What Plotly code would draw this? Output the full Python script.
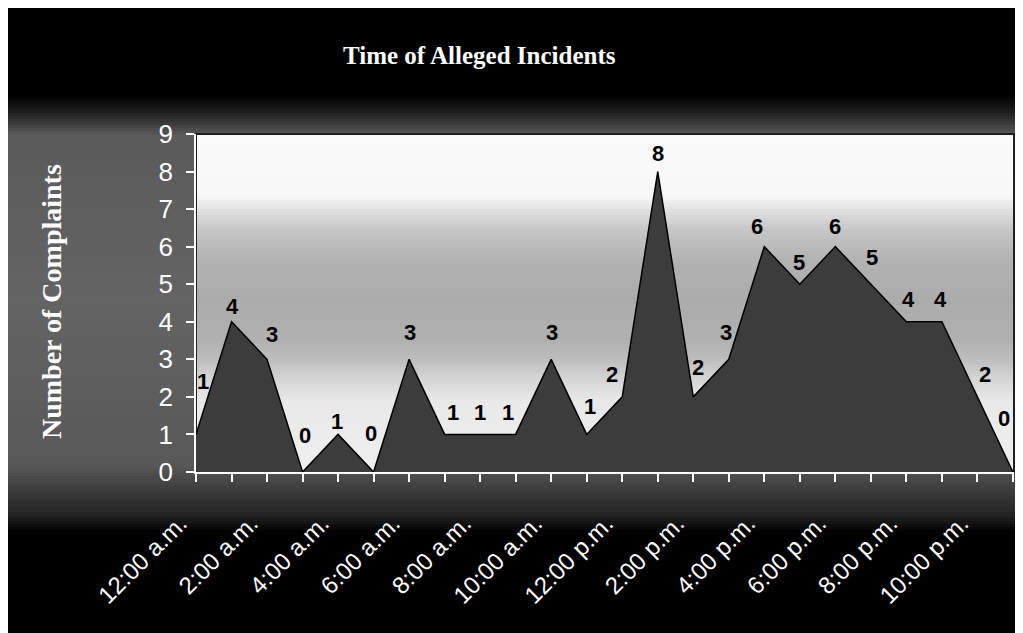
import plotly.graph_objects as go

# ---------------- data ----------------
hours = ["12:00 a.m.", "1:00 a.m.", "2:00 a.m.", "3:00 a.m.", "4:00 a.m.", "5:00 a.m.",
         "6:00 a.m.", "7:00 a.m.", "8:00 a.m.", "9:00 a.m.", "10:00 a.m.", "11:00 a.m.",
         "12:00 p.m.", "1:00 p.m.", "2:00 p.m.", "3:00 p.m.", "4:00 p.m.", "5:00 p.m.",
         "6:00 p.m.", "7:00 p.m.", "8:00 p.m.", "9:00 p.m.", "10:00 p.m.", "11:00 p.m."]
complaints = [1, 4, 3, 0, 1, 0, 3, 1, 1, 1, 3, 1, 2, 8, 2, 3, 6, 5, 6, 5, 4, 4, 2, 0]
shown_tick_labels = ["12:00 a.m.", "", "2:00 a.m.", "", "4:00 a.m.", "", "6:00 a.m.", "",
                     "8:00 a.m.", "", "10:00 a.m.", "", "12:00 p.m.", "", "2:00 p.m.", "",
                     "4:00 p.m.", "", "6:00 p.m.", "", "8:00 p.m.", "", "10:00 p.m.", ""]
y_tick_values = [0, 1, 2, 3, 4, 5, 6, 7, 8, 9]
chart_title = "Time of Alleged Incidents"
y_axis_title = "Number of Complaints"

# ---------------- styling / layout helpers ----------------
OFF = 8                      # page body margin (gives the white top/left border)
W, H = 1023, 633
L, R, T, B = 196, 1014, 134, 472   # plot area in window pixels

label_dx = [7, 1, 5, 2, -1, -3, 1, 8, 0, -8, 1, 3, -10, 0, 5, -3, -7, -1, 0, 1, 2, -1, 8, -9]
label_dy = [53, 15, 25, 37, 13, 39, 27, 22, 22, 22, 27, 28, 22, 18, 29, 27, 20, 22, 20, 27, 22, 22, 22, 54]


def px(x):
    return (x - L) / (R - L)


def py(y):
    return (B - y) / (B - T)


def interp(stops, y):
    for (y0, g0), (y1, g1) in zip(stops, stops[1:]):
        if y0 <= y <= y1:
            t = (y - y0) / (y1 - y0) if y1 != y0 else 0
            return g0 + t * (g1 - g0)
    return stops[-1][1]


shapes = []
# grey chart-area band
area_stops = [(95, 0), (112, 30), (135, 90), (300, 100), (465, 88), (490, 60), (515, 35), (532, 0)]
step = 3
y = 95
while y < 532:
    g = int(round(interp(area_stops, y + step / 2)))
    shapes.append(dict(type="rect", xref="paper", yref="paper", x0=px(OFF), x1=px(1040),
                       y0=py(y + step), y1=py(y), fillcolor=f"rgb({g},{g},{g})",
                       line=dict(width=0), layer="below"))
    y += step

# plot-area gradient (white top, grey middle, light bottom)
plot_stops = [(T, 250), (195, 248), (210, 225), (230, 198), (260, 178), (300, 172), (340, 176),
              (360, 190), (380, 214), (400, 232), (B, 240)]
y = T
while y < B:
    y2 = min(y + step, B)
    g = int(round(interp(plot_stops, (y + y2) / 2)))
    shapes.append(dict(type="rect", xref="paper", yref="paper", x0=0, x1=1,
                       y0=py(y2), y1=py(y), fillcolor=f"rgb({g},{g},{g})",
                       line=dict(width=0), layer="below"))
    y = y2

shapes.append(dict(type="rect", xref="paper", yref="paper", x0=0, x1=1, y0=0, y1=1,
                   fillcolor="rgba(0,0,0,0)", line=dict(color="#202020", width=2), layer="below"))

fig = go.Figure()
fig.add_trace(go.Scatter(
    x=hours, y=complaints, mode="lines", fill="tozeroy",
    fillcolor="#3c3c3c", line=dict(color="#000000", width=1.5),
    hoverinfo="x+y", showlegend=False,
))

annotations = []
for i, (h, v) in enumerate(zip(hours, complaints)):
    annotations.append(dict(
        x=h, y=v, xref="x", yref="y", text=str(v), showarrow=False,
        xshift=label_dx[i], yshift=label_dy[i], xanchor="center", yanchor="middle",
        font=dict(family="Liberation Sans, Arial", size=22, color="black", weight="bold"),
    ))

annotations.append(dict(
    x=px(479), y=py(55), xref="paper", yref="paper", text=f"<b>{chart_title}</b>",
    showarrow=False, xanchor="center", yanchor="middle",
    font=dict(family="Liberation Serif, Times New Roman", size=25, color="white"),
))
annotations.append(dict(
    x=px(51), y=py(302), xref="paper", yref="paper", text=f"<b>{y_axis_title}</b>",
    showarrow=False, xanchor="center", yanchor="middle", textangle=-90,
    font=dict(family="Liberation Serif, Times New Roman", size=28, color="white"),
))

fig.update_layout(
    width=W, height=H, autosize=False,
    margin=dict(l=L - OFF, r=W - (R - OFF), t=T - OFF, b=H - (B - OFF), pad=0),
    paper_bgcolor="black", plot_bgcolor="rgba(0,0,0,0)",
    shapes=shapes, annotations=annotations,
    showlegend=False,
    xaxis=dict(
        type="category", range=[0, 23.03], tickmode="array", tickvals=hours, ticktext=shown_tick_labels,
        tickangle=-45, tickfont=dict(family="Liberation Sans, Arial", size=24, color="white"),
        ticks="outside", ticklen=8, tickwidth=1.5, tickcolor="white",
        showline=True, linecolor="white", linewidth=1.5, showgrid=False, zeroline=False,
        ticklabelstandoff=18, ticklabelshift=-16, fixedrange=True,
    ),
    yaxis=dict(
        range=[0, 9], tickmode="array", tickvals=y_tick_values,
        tickfont=dict(family="Liberation Sans, Arial", size=26, color="white"),
        ticks="outside", ticklen=8, tickwidth=1.5, tickcolor="white",
        showline=True, linecolor="white", linewidth=1.5, showgrid=False, zeroline=False,
        ticklabelstandoff=8, fixedrange=True,
    ),
)

fig.write_html("out.html", config={"displayModeBar": False})
